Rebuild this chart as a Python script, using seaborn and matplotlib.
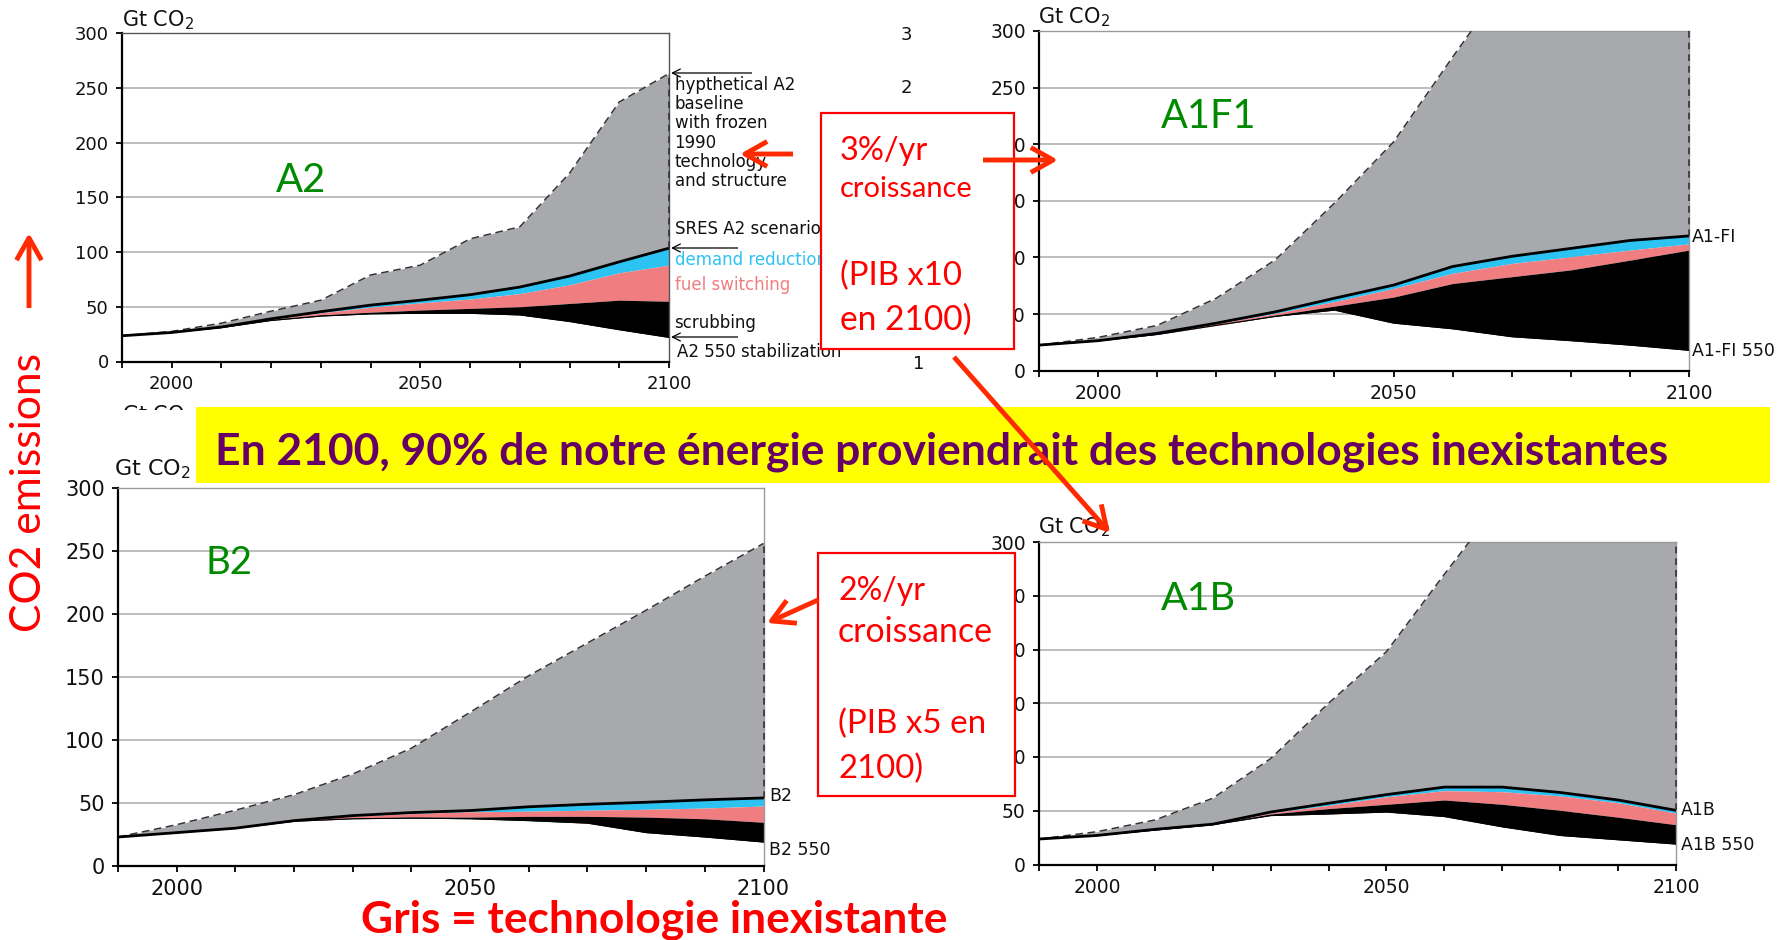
import numpy as np
import pandas as pd
import matplotlib
matplotlib.use("Agg")
import matplotlib.pyplot as plt
import seaborn as sns
from matplotlib.patches import Rectangle, FancyArrowPatch

# ---------------- data (Gt CO2) ----------------
years = [1990, 2000, 2010, 2020, 2030, 2040, 2050, 2060, 2070, 2080, 2090, 2100]

a2_frozen = [23.5, 27.5, 35, 46, 56, 79, 88, 112, 123, 172, 237, 263]
a2_sres   = [23.5, 26.5, 31.5, 39, 45.5, 51.5, 56, 61, 68, 78, 91, 103.5]
a2_demand = [23.5, 26.5, 31.4, 38.7, 44.5, 49.5, 53.5, 57, 62, 70, 81, 88]
a2_fuel   = [23.5, 26.5, 31.3, 38.2, 42.5, 45, 47, 48.5, 50, 53, 56, 55]
a2_stab   = [23.5, 26.5, 31, 37.5, 41.5, 43.5, 44, 44, 42.5, 36.5, 29, 22]

a1fi_frozen = [22.6, 29.4, 40, 64, 98, 148, 202, 277, 350, 420, 490, 560]
a1fi_sres   = [22.6, 26.5, 33, 42, 52, 64, 75.6, 92, 101, 108, 115, 119]
a1fi_demand = [22.6, 26.4, 32.8, 41.5, 50.6, 61, 72.6, 86, 94.7, 100.6, 106.5, 112]
a1fi_fuel   = [22.6, 26.3, 32.5, 40, 49, 57, 65, 77, 83, 89, 97.6, 106.5]
a1fi_stab   = [22.6, 26.3, 32, 40, 48, 53.5, 42, 37, 30, 26.5, 22.6, 18]

b2_frozen = [23, 32.8, 44.3, 56.6, 73, 93.5, 122, 151, 177, 203, 230, 256]
b2_sres   = [23, 26.5, 30, 36, 40, 42.4, 44, 47, 49, 50.6, 52.5, 54]
b2_demand = [23, 26.5, 30, 35.8, 39.5, 41.6, 43, 43.5, 44.3, 45, 46, 47.6]
b2_fuel   = [23, 26.5, 30, 35.6, 38, 38.8, 38.8, 39.4, 39.4, 38.8, 37.5, 34.7]
b2_stab   = [23, 26.5, 30, 35.5, 37.5, 38, 37.5, 36, 34, 26.5, 23, 19]

a1b_frozen = [23.7, 30.5, 41.4, 61.6, 98.5, 150, 198, 270, 340, 400, 450, 500]
a1b_sres   = [23.7, 27, 32.7, 37.5, 48.8, 57, 65, 72, 72, 67, 60, 50.4]
a1b_demand = [23.7, 27, 32.6, 37.3, 48, 55, 63, 68.7, 67.7, 63.8, 57.4, 47.8]
a1b_fuel   = [23.7, 27, 32.5, 37.2, 47, 52, 56, 60, 56, 50.4, 44, 37]
a1b_stab   = [23.7, 27, 32, 37, 45.5, 47, 48.8, 44.6, 35, 27, 23, 19]

y_ticks = [0, 50, 100, 150, 200, 250, 300]
x_labels = {2000: "2000", 2050: "2050", 2100: "2100"}

banner_text = "En 2100, 90% de notre énergie proviendrait des technologies inexistantes"
bottom_text = "Gris = technologie inexistante"
side_text = "CO2 emissions"
box1_lines = ["3%/yr", "croissance", "(PIB x10", "en 2100)"]
box2_lines = ["2%/yr", "croissance", "(PIB x5 en", "2100)"]
a2_notes = "hypthetical A2\nbaseline\nwith frozen\n1990\ntechnology\nand structure"

# ---------------- style ----------------
sns.set_theme(style="white")
plt.rcParams['font.family'] = ['DejaVu Sans']

GREY = "#a7a9ac"
CYAN = "#2cc3f2"
PINK = "#f07d80"
GREEN = "#008a00"
RED = "#ff0000"
ARROW = "#ff2a00"
PURPLE = "#660066"

W, H = 1792, 940
fig = plt.figure(figsize=(W / 100, H / 100), dpi=100)
fig.patch.set_facecolor("white")
renderer = fig.canvas.get_renderer()


def fx(x):
    return x / W


def fy(y):
    return 1 - y / H


def make_axes(l, t, r, b):
    return fig.add_axes([fx(l), fy(b), (r - l) / W, (b - t) / H])


def panel(ax, frozen, sres, demand, fuel, stab, tsize, spine_col):
    df = pd.DataFrame(dict(year=years, frozen=frozen, sres=sres,
                           demand=demand, fuel=fuel, stab=stab))
    for yv in y_ticks[1:]:
        ax.axhline(yv, color="#b8b8b8", lw=1.3, zorder=0)
    ax.fill_between(df.year, df.sres, df.frozen, color=GREY, lw=0, zorder=1)
    ax.fill_between(df.year, df.demand, df.sres, color=CYAN, lw=0, zorder=2)
    ax.fill_between(df.year, df.fuel, df.demand, color=PINK, lw=0, zorder=2)
    ax.fill_between(df.year, df.stab, df.fuel, color="black", lw=0, zorder=2)
    sns.lineplot(data=df, x="year", y="frozen", ax=ax, color="#333333",
                 lw=1.1, linestyle=(0, (5, 3)), zorder=3)
    sns.lineplot(data=df, x="year", y="sres", ax=ax, color="black", lw=2.0, zorder=3)
    sns.lineplot(data=df, x="year", y="stab", ax=ax, color="black", lw=0.8, zorder=3)
    top_end = min(frozen[-1], 300)
    ax.plot([years[-1], years[-1]], [sres[-1], top_end], color="#333333", lw=1.2,
            ls=(0, (4, 3)), clip_on=False, zorder=4)
    ax.set_xlim(years[0], years[-1])
    ax.set_ylim(0, 300)
    ax.set_xlabel("")
    ax.set_ylabel("")
    ax.set_yticks(y_ticks)
    ax.set_yticklabels([str(v) for v in y_ticks])
    ax.set_xticks(years)
    ax.set_xticklabels([x_labels.get(y, "") for y in years])
    ax.tick_params(axis="both", which="both", direction="out", length=4.5, width=1.3,
                   color="black", labelsize=tsize, pad=5, labelcolor="#111111",
                   bottom=True, left=True)
    for s in ["left", "bottom"]:
        ax.spines[s].set_color("black")
        ax.spines[s].set_linewidth(1.6)
    for s in ["top", "right"]:
        ax.spines[s].set_color(spine_col)
        ax.spines[s].set_linewidth(1.0)
    ax.set_facecolor("white")


ax_a2 = make_axes(122, 33, 669, 361.5)
panel(ax_a2, a2_frozen, a2_sres, a2_demand, a2_fuel, a2_stab, 13, "#555555")
ax_a1fi = make_axes(1039, 31, 1689, 370.7)
panel(ax_a1fi, a1fi_frozen, a1fi_sres, a1fi_demand, a1fi_fuel, a1fi_stab, 13.5, "#9a9a9a")
ax_b2 = make_axes(118, 488, 763.5, 866)
panel(ax_b2, b2_frozen, b2_sres, b2_demand, b2_fuel, b2_stab, 15, "#9a9a9a")
ax_a1b = make_axes(1039, 542, 1676, 864.5)
panel(ax_a1b, a1b_frozen, a1b_sres, a1b_demand, a1b_fuel, a1b_stab, 13.5, "#9a9a9a")


def ftext(x, y, s, **kw):
    kw.setdefault("zorder", 3)
    return fig.text(fx(x), fy(y), s, **kw)


def fit_text(x, y, s, width, size0=20, rotation=0, **kw):
    kw.setdefault("zorder", 8)
    t = fig.text(fx(x), fy(y), s, fontsize=size0, rotation=rotation, **kw)
    bb = t.get_window_extent(renderer=renderer)
    cur = bb.height if rotation == 90 else bb.width
    t.set_fontsize(size0 * width / cur)
    return t


def rect(l, t, r, b, **kw):
    p = Rectangle((fx(l), fy(b)), (r - l) / W, (b - t) / H, transform=fig.transFigure, **kw)
    fig.add_artist(p)
    return p


def arrow(x0, y0, x1, y1, color=ARROW, lw=3.5, hl=0.8, hw=0.45, ms=20, z=9):
    a = FancyArrowPatch((fx(x0), fy(y0)), (fx(x1), fy(y1)), transform=fig.transFigure,
                        arrowstyle=f"->,head_length={hl},head_width={hw}",
                        mutation_scale=ms, color=color, lw=lw,
                        shrinkA=0, shrinkB=0, zorder=z, capstyle="butt")
    fig.add_artist(a)
    return a


# Gt CO2 unit labels
ftext(122, 20, "Gt CO$_2$", fontsize=15, va="center", ha="left", color="#111111")
ftext(1038, 17, "Gt CO$_2$", fontsize=15, va="center", ha="left", color="#111111")
ftext(1038, 527, "Gt CO$_2$", fontsize=15, va="center", ha="left", color="#111111")
ftext(114, 469, "Gt CO$_2$", fontsize=16, va="center", ha="left", color="#111111")
# partly hidden label of another figure
ftext(122, 421, "Gt CO$_2$", fontsize=15, va="baseline", ha="left", color="#111111")
rect(95, 410, 200, 446, facecolor="white", edgecolor="none", zorder=4)
# stray tick labels of a hidden chart
ftext(906, 35, "3", fontsize=13, va="center", ha="center", color="#111111")
ftext(906, 88, "2", fontsize=13, va="center", ha="center", color="#111111")
ftext(919, 364, "1", fontsize=13, va="center", ha="center", color="#111111")

# A2 side annotations
ftext(674.5, 133, a2_notes, fontsize=12, va="center", ha="left", linespacing=1.1, color="#111111")
ftext(674.5, 229, "SRES A2 scenario", fontsize=12, va="center", ha="left", color="#111111")
ftext(674.5, 260, "demand reduction", fontsize=12, va="center", ha="left", color=CYAN)
ftext(674.5, 285, "fuel switching", fontsize=12, va="center", ha="left", color=PINK)
ftext(674.5, 323, "scrubbing", fontsize=12, va="center", ha="left", color="#111111")
ftext(677, 352, "A2 550 stabilization", fontsize=12, va="center", ha="left", color="#111111")
arrow(752, 73, 671, 73, color="black", lw=0.9, hl=0.6, hw=0.3, ms=10, z=3)
arrow(738, 248, 671, 248, color="black", lw=0.9, hl=0.6, hw=0.3, ms=10, z=3)
arrow(738, 337, 671, 337, color="black", lw=0.9, hl=0.6, hw=0.3, ms=10, z=3)

# other side annotations
ftext(1692, 237, "A1-FI", fontsize=12.5, va="center", ha="left", color="#111111")
ftext(1692, 351, "A1-FI 550", fontsize=12.5, va="center", ha="left", color="#111111")
ftext(769, 796, "B2", fontsize=12.5, va="center", ha="left", color="#111111")
ftext(769, 850, "B2 550", fontsize=12.5, va="center", ha="left", color="#111111")
ftext(1681, 810, "A1B", fontsize=12.5, va="center", ha="left", color="#111111")
ftext(1681, 845, "A1B 550", fontsize=12.5, va="center", ha="left", color="#111111")

# scenario names
fit_text(275.5, 192, "A2", 50, family="Lato", color=GREEN, va="baseline", zorder=5)
fit_text(1160.5, 128, "A1F1", 95, family="Lato", color=GREEN, va="baseline", zorder=5)
fit_text(205.5, 574, "B2", 47, family="Lato", color=GREEN, va="baseline", zorder=5)
fit_text(1160.5, 610, "A1B", 75, family="Lato", color=GREEN, va="baseline", zorder=5)

# yellow banner
rect(196, 407, 1770, 483.5, facecolor="#ffff00", edgecolor="none", zorder=5)
fit_text(215, 464, banner_text, 1453, family="Lato", weight="bold", color=PURPLE,
         va="baseline", zorder=6)

# red boxes
rect(821, 113, 1014, 349, facecolor="white", edgecolor=RED, lw=1.6, zorder=7)
box1_base = [160, 197, 285, 330]
box1_w = [88, 133, 122, 132]
for s, yb, w in zip(box1_lines, box1_base, box1_w):
    fit_text(840, yb, s, w, family="Lato", color=RED, va="baseline", zorder=8)

rect(818, 553, 1015, 796, facecolor="white", edgecolor=RED, lw=1.6, zorder=7)
box2_base = [600, 642, 733, 778]
box2_w = [87, 155, 148, 85]
for s, yb, w in zip(box2_lines, box2_base, box2_w):
    fit_text(838, yb, s, w, family="Lato", color=RED, va="baseline", zorder=8)

# red arrows
arrow(793, 154, 740, 154)
arrow(983, 160, 1058, 160)
arrow(954, 357, 1110, 533)
arrow(818, 600, 767, 623)
arrow(29, 308, 29, 233)

# side and bottom titles
fit_text(29, 493, side_text, 280, rotation=90, family="Lato", color=RED,
         ha="center", va="center", zorder=8)
fit_text(360.5, 932, bottom_text, 586, family="Lato", weight="bold", color=RED,
         va="baseline", zorder=8)

fig.savefig("out.png", dpi=100, facecolor="white")
